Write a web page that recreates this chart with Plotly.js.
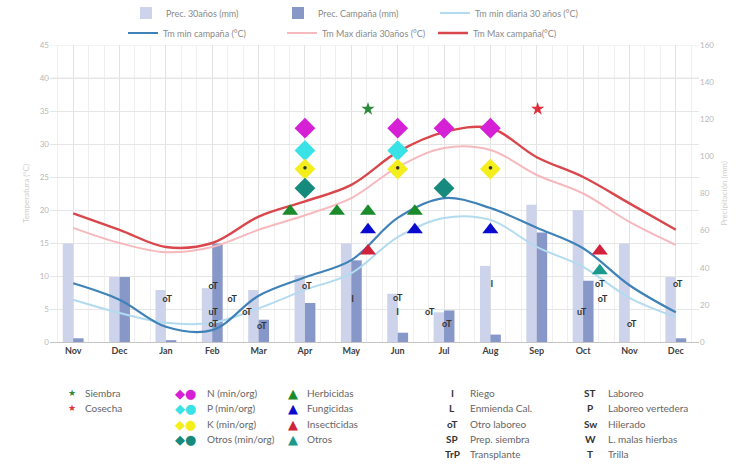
<!DOCTYPE html>
<html>
<head>
<meta charset="utf-8">
<script src="https://cdn.plot.ly/plotly-3.0.1.min.js"></script>
<style>html,body{margin:0;padding:0;background:#fff;}#chart{width:738px;height:468px;}</style>
</head>
<body>
<div id="chart"></div>
<script>
// ---- data ----
var months = ['Nov','Dec','Jan','Feb','Mar','Apr','May','Jun','Jul','Aug','Sep','Oct','Nov','Dec'];
var monthIdx = [0,1,2,3,4,5,6,7,8,9,10,11,12,13];
var prec30 = [53, 35, 28, 29, 28, 36, 53, 26, 16, 41, 74, 71, 53, 35];
var precCamp = [2, 35, 1, 53, 12, 21, 44, 5, 17, 4, 59, 33, 0, 2];
var tmin30 = [6.4, 4.4, 2.9, 2.9, 5.1, 7.9, 10.4, 15.9, 18.8, 18.5, 14.4, 11.4, 6.7, 3.8];
var tminCamp = [8.9, 6.4, 2.3, 1.8, 7.0, 9.8, 12.4, 18.8, 21.8, 20.3, 17.3, 14.2, 8.6, 4.5];
var tmax30 = [17.3, 15.0, 13.6, 14.4, 17.0, 19.2, 21.8, 26.5, 29.4, 29.1, 25.3, 22.5, 18.2, 14.7];
var tmaxCamp = [19.5, 17.0, 14.4, 15.0, 19.0, 21.3, 23.8, 28.8, 31.8, 32.4, 28.0, 25.0, 21.0, 17.0];

var siembraX = [6.36], siembraY = [35.3];
var cosechaX = [10.02], cosechaY = [35.3];
var nX = [5, 7, 8, 9], nY = [32.4, 32.4, 32.4, 32.4];
var pX = [5, 7], pY = [29.0, 29.0];
var kX = [5, 7, 9], kY = [26.2, 26.2, 26.2];
var otrosFertX = [5, 8], otrosFertY = [23.3, 23.3];
var herbX = [4.68, 5.69, 6.36, 7.37], herbY = [19.8, 19.8, 19.8, 19.8];
var fungX = [6.36, 7.37, 9.0], fungY = [17.0, 17.0, 17.0];
var insX = [6.36, 11.36], insY = [13.8, 13.8];
var otrosFitoX = [11.36], otrosFitoY = [10.8];

var labX = [2.03, 3.02, 3.02, 3.02, 3.43, 3.75, 4.07, 5.04, 6.03, 7.0, 7.0, 7.69, 8.06, 9.03, 11.36, 11.42, 10.97, 12.05, 13.04];
var labY = [6.4, 8.3, 4.5, 2.6, 6.4, 4.5, 2.3, 8.3, 6.4, 6.5, 4.5, 4.5, 2.6, 8.6, 8.6, 6.4, 4.5, 2.6, 8.6];
var labT = ['oT','oT','uT','oT','oT','oT','oT','oT','I','oT','I','oT','oT','I','oT','oT','uT','oT','oT'];

// ---- helpers ----
var L = 50, R = 39, T = 45, B = 126, W = 738, H = 468;
var PW = W - L - R, PH = H - T - B;
function px(X){ return (X - L) / PW; }
function py(Y){ return (H - B - Y) / PH; }
var FONT = 'Lato, "Open Sans", sans-serif';

var traces = [];
traces.push({type:'bar', x:monthIdx, y:prec30, name:'Prec. 30años (mm)', marker:{color:'#cdd3ea'}, yaxis:'y', legend:'legend'});
traces.push({type:'bar', x:monthIdx, y:precCamp, name:'Prec. Campaña (mm)', marker:{color:'#8797c8'}, yaxis:'y', legend:'legend2'});
traces.push({type:'scatter', mode:'lines', x:monthIdx, y:tmin30, name:'Tm min diaria 30 años (°C)', line:{color:'#b3dbef', width:2, shape:'spline', smoothing:1}, yaxis:'y2', legend:'legend3'});
traces.push({type:'scatter', mode:'lines', x:monthIdx, y:tminCamp, name:'Tm min campaña (°C)', line:{color:'#3f82b8', width:2.2, shape:'spline', smoothing:1}, yaxis:'y2', legend:'legend4'});
traces.push({type:'scatter', mode:'lines', x:monthIdx, y:tmax30, name:'Tm Max diaria 30años (°C)', line:{color:'#f6b9bd', width:2, shape:'spline', smoothing:1}, yaxis:'y2', legend:'legend5'});
traces.push({type:'scatter', mode:'lines', x:monthIdx, y:tmaxCamp, name:'Tm Max campaña(°C)', line:{color:'#d9474c', width:2.4, shape:'spline', smoothing:1}, yaxis:'y2', legend:'legend6'});

function mk(x, y, sym, size, color, name){
  return {type:'scatter', mode:'markers', x:x, y:y, yaxis:'y2', showlegend:false, name:name,
    marker:{symbol:sym, size:size, color:color, line:{width:0}}, hoverinfo:'skip'};
}
traces.push(mk(siembraX, siembraY, 'star', 10, '#2d8a3c', 'Siembra'));
traces.push(mk(cosechaX, cosechaY, 'star', 10, '#e0303c', 'Cosecha'));
traces.push(mk(nX, nY, 'diamond', 16, '#d620d6', 'N'));
traces.push(mk(pX, pY, 'diamond', 16, '#38e2e6', 'P'));
traces.push(mk(kX, kY, 'diamond', 16, '#f4ee1c', 'K'));
traces.push({type:'scatter', mode:'text', x:kX, y:kY, text:kX.map(function(){return '•';}), yaxis:'y2', showlegend:false, textfont:{size:9, color:'#333'}, hoverinfo:'skip'});
traces.push(mk(otrosFertX, otrosFertY, 'diamond', 16, '#168a7c', 'Otros'));
traces.push(mk(herbX, herbY, 'triangle-up', 14, '#1b8a2a', 'Herbicidas'));
traces.push(mk(fungX, fungY, 'triangle-up', 14, '#0b0bd0', 'Fungicidas'));
traces.push(mk(insX, insY, 'triangle-up', 14, '#d0223a', 'Insecticidas'));
traces.push(mk(otrosFitoX, otrosFitoY, 'triangle-up', 14, '#1a9a8c', 'Otros'));
traces.push({type:'scatter', mode:'text', x:labX, y:labY, text:labT, yaxis:'y2', showlegend:false,
  textfont:{size:9, color:'#333', family:FONT, weight:'bold'}, hoverinfo:'skip'});

function leg(Xtext, Ytext){
  return {x:px(Xtext - 40), y:py(Ytext), xanchor:'left', yanchor:'middle', orientation:'h',
    bgcolor:'rgba(0,0,0,0)', font:{size:9, color:'#8a8a8a', family:FONT}, itemwidth:30};
}

var ann = [];
function txt(X, Y, s, opts){
  var a = {xref:'paper', yref:'paper', x:px(X), y:py(Y), text:s, showarrow:false, xanchor:'left', yanchor:'middle',
    borderpad:0, font:{size:10, color:'#666', family:FONT}};
  if (opts) { for (var k in opts) a[k] = opts[k]; }
  return a;
}
function glyph(X, Y, s, color, size){
  return {xref:'paper', yref:'paper', x:px(X), y:py(Y), text:s, showarrow:false, xanchor:'center', yanchor:'middle',
    borderpad:0, font:{size:size, color:color, family:'DejaVu Sans'}};
}
var r1 = 393, r2 = 408, r3 = 424, r4 = 439, r5 = 454;
ann.push(glyph(72, r1, '★', '#2d8a3c', 9)); ann.push(txt(84, r1, 'Siembra'));
ann.push(glyph(72, r2, '★', '#e0303c', 9)); ann.push(txt(84, r2, 'Cosecha'));
var fert = [['#d620d6','N (min/org)'],['#38e2e6','P (min/org)'],['#f4ee1c','K (min/org)'],['#168a7c','Otros (min/org)']];
[r1,r2,r3,r4].forEach(function(Y,i){
  ann.push(glyph(185, Y, '◆●', fert[i][0], 13));
  ann.push(txt(206, Y, fert[i][1]));
});
var fito = [['#1b8a2a','Herbicidas'],['#0b0bd0','Fungicidas'],['#d0223a','Insecticidas'],['#1a9a8c','Otros']];
[r1,r2,r3,r4].forEach(function(Y,i){
  ann.push(glyph(293, Y, '▲', fito[i][0], 13));
  ann.push(txt(306, Y, fito[i][1]));
});
var col4 = [['I','Riego'],['L','Enmienda Cal.'],['oT','Otro laboreo'],['SP','Prep. siembra'],['TrP','Transplante']];
var col5 = [['ST','Laboreo'],['P','Laboreo vertedera'],['Sw','Hilerado'],['W','L. malas hierbas'],['T','Trilla']];
[r1,r2,r3,r4,r5].forEach(function(Y,i){
  ann.push(txt(452, Y, col4[i][0], {xanchor:'center', font:{size:10, color:'#333', family:FONT, weight:'bold'}}));
  ann.push(txt(469, Y, col4[i][1]));
  ann.push(txt(590, Y, col5[i][0], {xanchor:'center', font:{size:10, color:'#333', family:FONT, weight:'bold'}}));
  ann.push(txt(607, Y, col5[i][1]));
});

var shapes = [
  {type:'rect', xref:'paper', yref:'y2', x0:0, x1:1, y0:36.7, y1:45, fillcolor:'#ffffff', line:{width:0}, layer:'between'},
  {type:'line', xref:'paper', yref:'y2', x0:0, x1:1, y0:40, y1:40, line:{color:'#e8e8e8', width:1}, layer:'between'},
  {type:'line', xref:'paper', yref:'y2', x0:0, x1:1, y0:45, y1:45, line:{color:'#e8e8e8', width:1}, layer:'between'}
];

var layout = {
  width:W, height:H, margin:{l:L, r:R, t:T, b:B, autoexpand:false},
  paper_bgcolor:'#ffffff', plot_bgcolor:'#ffffff',
  font:{family:FONT},
  barmode:'group', bargap:0.55, bargroupgap:0,
  showlegend:true,
  xaxis:{range:[-0.5, 13.5], tickmode:'array', tickvals:monthIdx, ticktext:months,
    tickfont:{size:9, color:'#404040', family:FONT, weight:'bold'}, showgrid:true, gridcolor:'#e2e2e2',
    minor:{tickmode:'linear', tick0:0, dtick:1/3, showgrid:true, gridcolor:'#efefef'},
    zeroline:false, showline:true, linecolor:'#c4c4c4', ticks:'', fixedrange:true, automargin:false},
  yaxis:{side:'right', range:[0,160], dtick:20, showgrid:false, zeroline:false, automargin:false,
    tickfont:{size:8, color:'#b8b8b8', family:FONT},
    title:{text:'Precipitación (mm)', font:{size:8, color:'#cfcfcf'}, standoff:8}},
  yaxis2:{overlaying:'y', side:'left', range:[0,45], dtick:5, showgrid:true, gridcolor:'#e6e6e6', zeroline:false, automargin:false,
    tickfont:{size:8, color:'#b8b8b8', family:FONT},
    title:{text:'Temperatura (°C)', font:{size:8, color:'#cfcfcf'}, standoff:8}},
  legend:leg(166, 13), legend2:leg(318, 13), legend3:leg(475, 13),
  legend4:leg(163, 33), legend5:leg(322, 33), legend6:leg(473, 33),
  annotations:ann, shapes:shapes
};

Plotly.newPlot('chart', traces, layout, {displayModeBar:false, staticPlot:true});
</script>
</body>
</html>
